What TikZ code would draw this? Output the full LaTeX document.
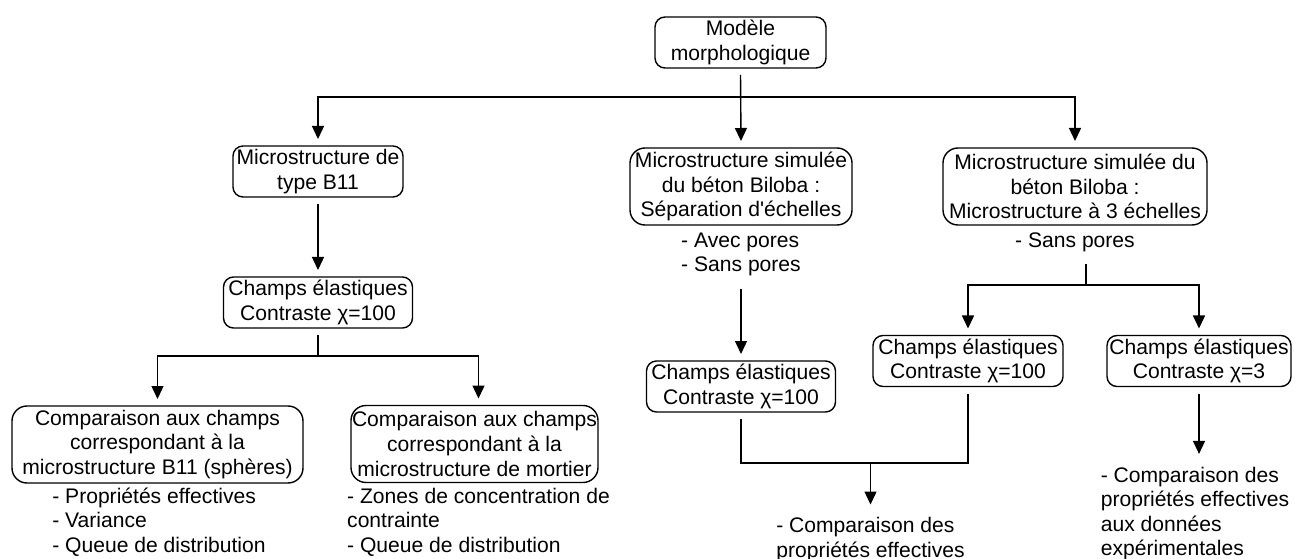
\documentclass[tikz,border=0pt]{standalone}
\usepackage{fontspec}
\setmainfont{Liberation Sans}
\usetikzlibrary{arrows.meta}

\begin{document}
\begin{tikzpicture}[
    font=\fontsize{12}{14}\selectfont,
    box/.style={draw, rounded corners=2mm, align=center, line width=0.8pt, inner sep=0pt, outer sep=1.4mm, minimum height=1.02cm},
    tallbox/.style={box, rounded corners=3mm, minimum height=1.54cm},
    items/.style={align=left, outer sep=1.4mm},
    arrow/.style={-{Triangle[length=2.6mm, width=2.4mm]}, line width=0.8pt},
    link/.style={line width=0.8pt}
]
\useasboundingbox (0,0) rectangle (25.9,-11.18);

% root
\node[box, minimum width=3.42cm] (modele) at (14.81,-0.85) {Modèle\\morphologique};

% B11 branch
\node[box, minimum width=3.40cm] (b11) at (6.36,-3.43) {Microstructure de\\type B11};
\node[box, minimum width=3.78cm] (chpA) at (6.36,-6.05) {Champs élastiques\\Contraste χ=100};
\node[tallbox, minimum width=5.82cm] (compA) at (3.15,-8.89) {Comparaison aux champs\\correspondant à la\\microstructure B11 (sphères)};
\node[tallbox, minimum width=4.94cm] (compB) at (9.49,-8.88) {Comparaison aux champs\\correspondant à la\\microstructure de mortier};
\node[items] (listA) at (3.18,-10.44) {- Propriétés effectives\\- Variance\\- Queue de distribution};
\node[items] (listB) at (9.57,-10.44) {- Zones de concentration de\\contrainte\\- Queue de distribution};

% Biloba, separation d'echelles
\node[tallbox, minimum width=4.44cm] (sep) at (14.82,-3.73) {Microstructure simulée\\du béton Biloba :\\Séparation d\textquotesingle échelles};
\node[items] (listSep) at (14.82,-5.09) {- Avec pores\\- Sans pores};
\node[box, minimum width=3.78cm] (chpB) at (14.82,-7.73) {Champs élastiques\\Contraste χ=100};
\node[items] (listMid) at (17.41,-10.79) {- Comparaison des\\propriétés effectives};

% Biloba, 3 echelles
\node[tallbox, minimum width=5.28cm] (trois) at (21.5,-3.73) {Microstructure simulée du\\béton Biloba :\\Microstructure à 3 échelles};
\node[items] (listTrois) at (21.5,-4.84) {- Sans pores};
\node[box, minimum width=3.80cm] (chpC) at (19.36,-7.22) {Champs élastiques\\Contraste χ=100};
\node[box, minimum width=3.68cm] (chpD) at (23.98,-7.22) {Champs élastiques\\Contraste χ=3};
\node[items] (listRight) at (23.90,-10.27) {- Comparaison des\\propriétés effectives\\aux données\\expérimentales};

% connectors
\draw[arrow] (modele.south) -- (sep.north);
\draw[arrow] (modele.south) -- ++(0,-0.44) -| (b11.north);
\draw[arrow] (modele.south) -- ++(0,-0.44) -| (trois.north);

\draw[arrow] (b11.south) -- (chpA.north);
\draw[arrow] (chpA.south) -- ++(0,-0.42) -| (compA.north);
\draw[arrow] (chpA.south) -- ++(0,-0.42) -| (listB.north |- compB.north);

\draw[arrow] (listSep.south) -- (chpB.north);

\coordinate (hubR) at (21.72,-5.70);
\draw[link] (hubR |- listTrois.south) -- (hubR);
\draw[arrow] (hubR) -| (chpC.north);
\draw[arrow] (hubR) -| (chpD.north);

\coordinate (join) at (17.41,-9.26);
\draw[link] (chpB.south) |- (join) -| (chpC.south);
\draw[arrow] (join) -- (listMid.north);
\draw[arrow] (chpD.south) -- (chpD.south |- listRight.north);

\end{tikzpicture}
\end{document}
